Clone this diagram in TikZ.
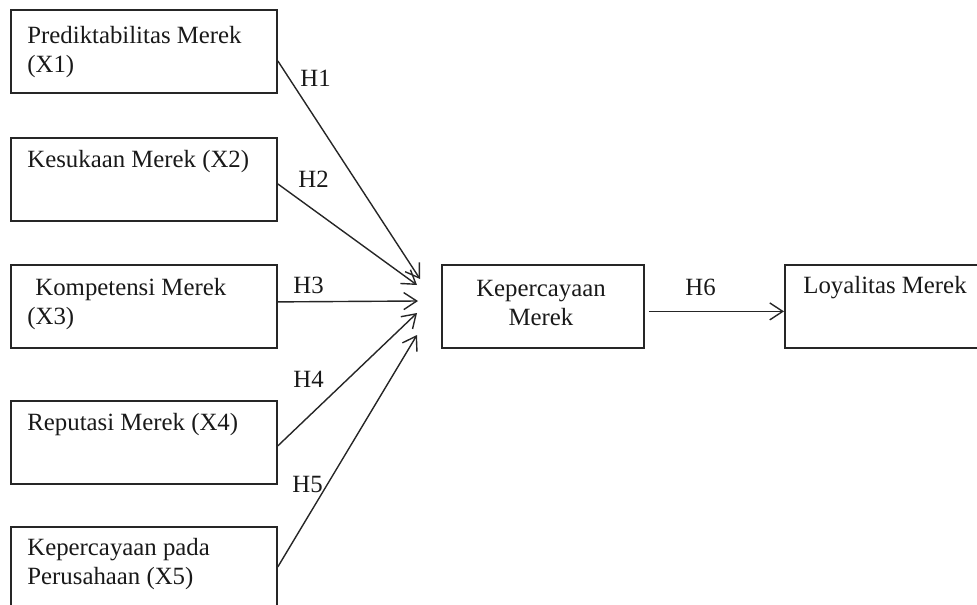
\documentclass[tikz,border=0pt]{standalone}
\usepackage{fontspec}
\setmainfont{Liberation Serif}
\usepackage{tikz}
\usetikzlibrary{arrows.meta}

\begin{document}
\begin{tikzpicture}[x=0.5pt, y=-0.5pt, >={Straight Barb[length=6.5pt,width=8.5pt]},
  every node/.style={font=\fontsize{12.4pt}{14.5pt}\selectfont, inner sep=0pt, text=black!90},
  box/.style={draw=black!85, line width=0.9pt, anchor=north west, minimum width=133pt, minimum height=41.5pt},
  txt/.style={anchor=north west, align=left},
  link/.style={->, line width=0.7pt, black!85}]
  \useasboundingbox (0,0) rectangle (977,604);
  \clip (0,0) rectangle (977,604);

  % boxes
  \node [box] (X1) at (10,9) {};
  \node [box] (X2) at (10,137) {};
  \node [box] (X3) at (10,264) {};
  \node [box] (X4) at (10,400) {};
  \node [box, minimum height=45pt] (X5) at (10,526) {};
  \node [box, minimum width=101pt] (K) at (441,264) {};
  \node [box, minimum width=113pt] (L) at (784,264) {};

  % texts
  \node [txt] (T1) at (27,26) {Prediktabilitas Merek\\(X1)};
  \node [txt] (T2) at (27,150) {Kesukaan Merek (X2)};
  \node [txt] (T3) at (27,278) {\hspace{4pt}Kompetensi Merek\\(X3)};
  \node [txt] (T4) at (27,413) {Reputasi Merek (X4)};
  \node [txt] (T5) at (27,538) {Kepercayaan pada\\Perusahaan (X5)};
  \node [anchor=north, align=center] (TK) at (541,280) {Kepercayaan\\Merek};
  \node [txt] (TL) at (803,276) {Loyalitas Merek};

  % arrow ends
  \coordinate (P1) at (420,279);
  \coordinate (P2) at (417,285);
  \coordinate (P3) at (418,301);
  \coordinate (P4) at (417,313);
  \coordinate (P5) at (417,335);

  \draw [link] ([yshift=-4.75pt]X1.east) -- (P1);
  \draw [link] ([yshift=-2.25pt]X2.east) -- (P2);
  \draw [link] ([yshift=2.25pt]X3.east) -- (P3);
  \draw [link] ([yshift=-1.75pt]X4.east) -- (P4);
  \draw [link] ([yshift=2.5pt]X5.east) -- (P5);
  \draw [link, shorten <=2pt] ([yshift=-2.5pt]K.east) -- ([yshift=-2.5pt]L.west);

  % hypotheses
  \node [anchor=base west] (H1) at (300,87) {H1};
  \node [anchor=base west] (H2) at (298,187) {H2};
  \node [anchor=base west] (H3) at (293,293) {H3};
  \node [anchor=base west] (H4) at (293,387) {H4};
  \node [anchor=base west] (H5) at (292,492) {H5};
  \node [anchor=base west] (H6) at (685,295) {H6};
\end{tikzpicture}
\end{document}
